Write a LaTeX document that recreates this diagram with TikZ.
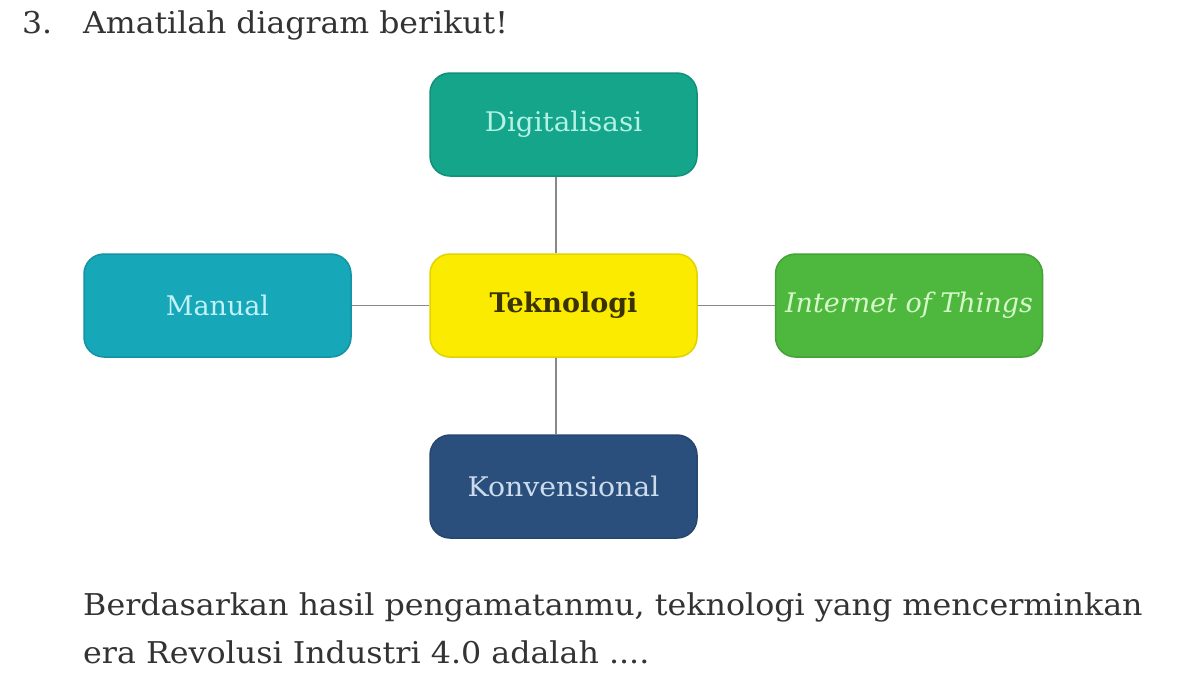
\documentclass[tikz,border=0pt]{standalone}
\usepackage{fontspec}
\setmainfont{DejaVu Serif}
\usetikzlibrary{calc}
\definecolor{cDig}{HTML}{14A58B}
\definecolor{cDigT}{HTML}{B4F2E4}
\definecolor{cMan}{HTML}{16A7B9}
\definecolor{cManT}{HTML}{C2F2F8}
\definecolor{cTek}{HTML}{FAEB00}
\definecolor{cTekT}{HTML}{3A3200}
\definecolor{cIot}{HTML}{4DB83D}
\definecolor{cIotT}{HTML}{D6F8C8}
\definecolor{cKon}{HTML}{2B4F7D}
\definecolor{cKonT}{HTML}{CCDCEC}
\definecolor{cTxt}{HTML}{333333}
\definecolor{cLine}{HTML}{888888}
\tikzset{
  boxnode/.style={rounded corners=20pt, minimum width=267pt, minimum height=103pt, inner sep=0pt, line width=1.5pt, font=\fontsize{27}{32}\selectfont},
  linknode/.style={draw=cLine, line width=1.5pt},
  bodytext/.style={anchor=base west, inner sep=0pt, text=cTxt, font=\fontsize{30}{36}\selectfont}
}
\begin{document}
\begin{tikzpicture}[x=1pt,y=-1pt]
\useasboundingbox[fill=white] (0,0) rectangle (1200,675);
% title
\node[bodytext] (num) at (22,33) {\scalebox{1.05}[1]{3.}};
\node[bodytext] (title) at (83,33) {\scalebox{1.05}[1]{Amatilah diagram berikut!}};
% boxes
\node[boxnode, fill=cDig, draw=cDig!88!black, text=cDigT] (dig) at (563.5,124.5) {\scalebox{1.03}[1]{Digitalisasi}};
\node[boxnode, fill=cMan, draw=cMan!88!black, text=cManT] (man) at (217.5,305.5) {Manual};
\node[boxnode, fill=cTek, draw=cTek!90!black, text=cTekT] (tek) at (563.5,305.5) {\bfseries Teknologi};
\node[boxnode, fill=cIot, draw=cIot!88!black, text=cIotT] (iot) at (909,305.5) {\itshape Internet of Things};
\node[boxnode, fill=cKon, draw=cKon!88!black, text=cKonT] (kon) at (563.5,486.5) {\scalebox{1.05}[1]{Konvensional}};
% connectors
\draw[linknode] (dig.south -| 556,0) -- (tek.north -| 556,0);
\draw[linknode] (tek.south -| 556,0) -- (kon.north -| 556,0);
\draw[linknode] (man.east) -- (tek.west);
\draw[linknode] (tek.east) -- (iot.west);
% question text
\node[bodytext] (q1) at (83,615) {\scalebox{1.057}[1]{Berdasarkan hasil pengamatanmu, teknologi yang mencerminkan}};
\node[bodytext] (q2) at (83,663) {\scalebox{1.057}[1]{era Revolusi Industri 4.0 adalah ....}};
\end{tikzpicture}
\end{document}
